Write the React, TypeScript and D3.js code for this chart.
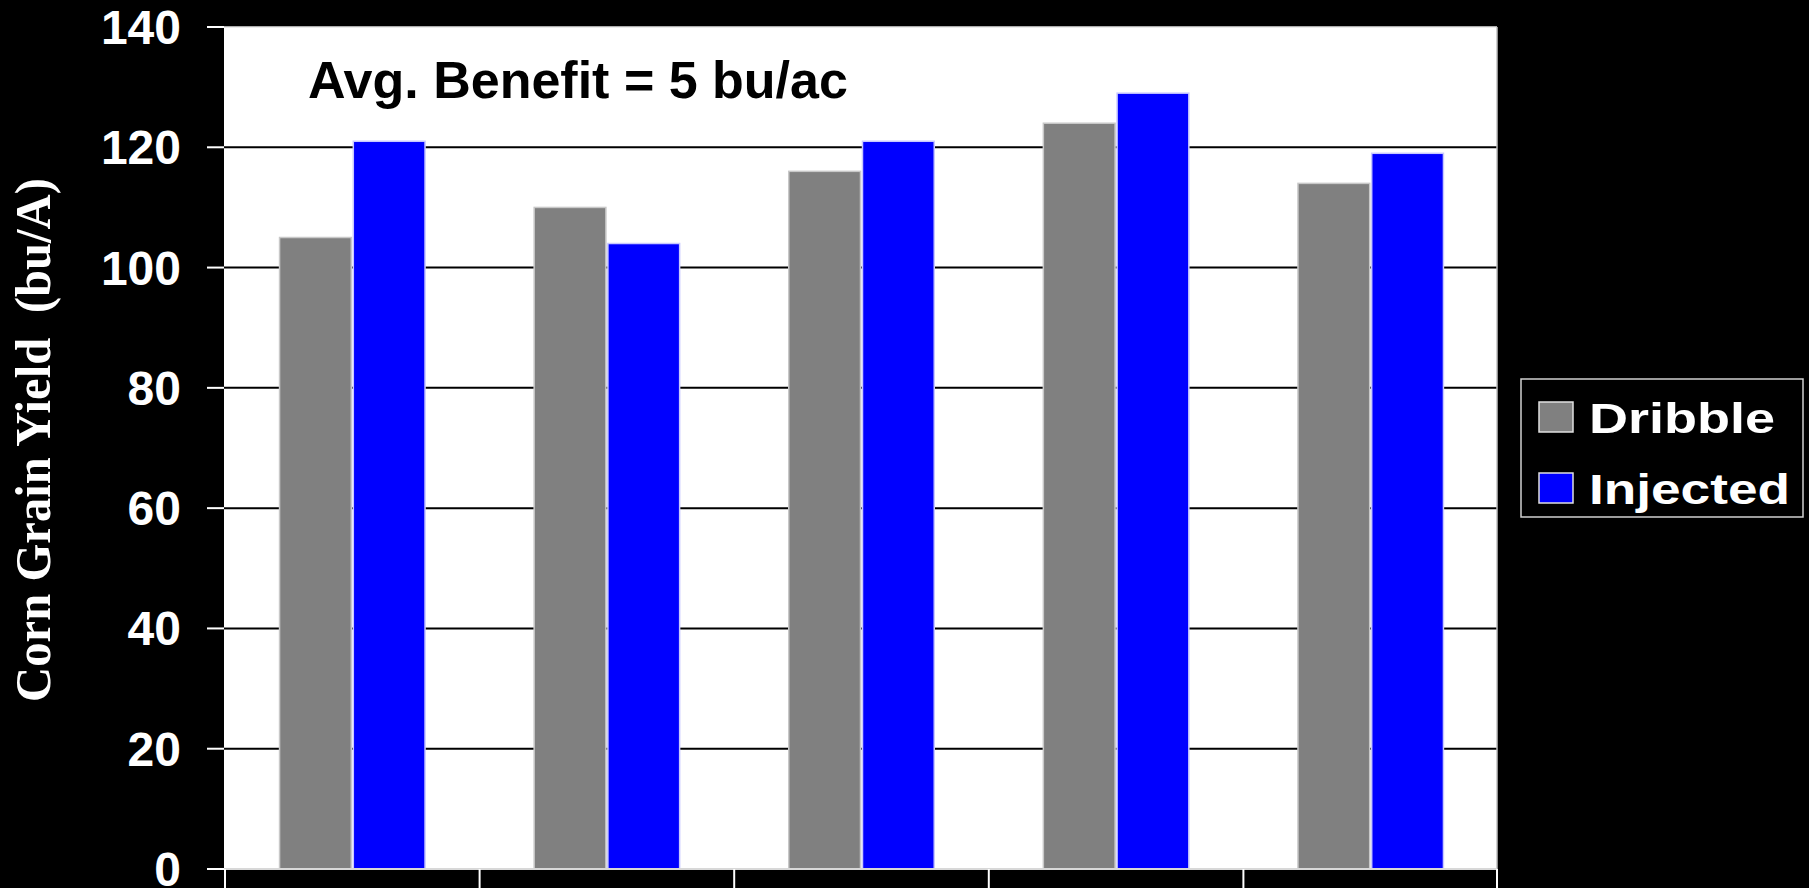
import React, { useEffect } from "react";
import * as d3 from "d3";

const categories = ["Site 1", "Site 2", "Site 3", "Site 4", "Site 5"];
const seriesNames = ["Dribble", "Injected"];
const dribble = [105, 110, 116, 124, 114];
const injected = [121, 104, 121, 129, 119];
const yTicks = [0, 20, 40, 60, 80, 100, 120, 140];
const seriesColors = ["#808080", "#0000FF"];
const annotation = "Avg. Benefit = 5 bu/ac";
const yTitle = "Corn Grain Yield\u00A0\u00A0(bu/A)";

const W = 1809;
const H = 888;
const plot = { left: 224, right: 1497, top: 27, bottom: 869 };

export default function App() {
  useEffect(() => {
    document.body.style.margin = "0";
    document.body.style.background = "#000";
  }, []);

  const x = d3
    .scaleBand<string>()
    .domain(categories)
    .range([plot.left, plot.right])
    .paddingInner(0)
    .paddingOuter(0);
  const y = d3.scaleLinear().domain([0, 140]).range([plot.bottom, plot.top]);
  const bw = x.bandwidth() / 3.5;
  const series = [dribble, injected];

  const boundaries = categories.map((c) => x(c) as number).concat([plot.right - 1]);

  return (
    <svg
      width={W}
      height={H}
      style={{ display: "block", background: "#000" }}
      fontFamily="'Liberation Sans', Arial, sans-serif"
    >
      <rect x={0} y={0} width={W} height={H} fill="#000" />
      {/* plot area */}
      <rect
        x={plot.left}
        y={plot.top}
        width={plot.right - plot.left}
        height={plot.bottom - plot.top}
        fill="#fff"
      />
      {/* gridlines */}
      {yTicks
        .filter((t) => t > 0 && t < 140)
        .map((t) => (
          <line
            key={"g" + t}
            x1={plot.left}
            x2={plot.right}
            y1={y(t)}
            y2={y(t)}
            stroke="#000"
            strokeWidth={2}
          />
        ))}
      {/* top & right borders */}
      <line x1={plot.left} x2={plot.right} y1={plot.top} y2={plot.top} stroke="#e6e6e6" strokeWidth={1.5} />
      <line x1={plot.right} x2={plot.right} y1={plot.top} y2={plot.bottom} stroke="#c0c0c0" strokeWidth={1.5} />
      {/* bars */}
      {series.map((vals, si) =>
        vals.map((v, i) => {
          const bx = (x(categories[i]) as number) + 0.75 * bw + si * bw;
          return (
            <rect
              key={`b${si}-${i}`}
              x={bx + 1 + si}
              y={y(v)}
              width={bw - 1}
              height={y(0) - y(v)}
              fill={seriesColors[si]}
              stroke={si === 0 ? "#c8c8c8" : "#c8c8ff"}
              strokeWidth={1.5}
            />
          );
        })
      )}
      {/* x axis */}
      <line x1={207} x2={plot.right} y1={plot.bottom} y2={plot.bottom} stroke="#d8d8d8" strokeWidth={2} />
      {boundaries.map((bx, i) => (
        <line key={"xt" + i} x1={bx + 1} x2={bx + 1} y1={plot.bottom} y2={H} stroke="#fff" strokeWidth={2} />
      ))}
      {/* y ticks & labels */}
      {yTicks.map((t) => (
        <g key={"yt" + t}>
          <line x1={207} x2={plot.left} y1={y(t)} y2={y(t)} stroke="#fff" strokeWidth={2} />
          <text
            x={181}
            y={y(t) + 17}
            textAnchor="end"
            fill="#fff"
            fontWeight="bold"
            fontSize={48}
          >
            {t}
          </text>
        </g>
      ))}
      {/* y title */}
      <text
        transform={`translate(50, 440) rotate(-90)`}
        textAnchor="middle"
        fill="#fff"
        fontWeight="bold"
        fontSize={50}
        fontFamily="'Liberation Serif', 'Times New Roman', serif"
        textLength={524}
        lengthAdjust="spacingAndGlyphs"
      >
        {yTitle}
      </text>
      {/* annotation */}
      <text x={308} y={98} fill="#000" fontWeight="bold" fontSize={52}>
        {annotation}
      </text>
      {/* legend */}
      <rect x={1521} y={379} width={282} height={138} fill="#000" stroke="#d0d0d0" strokeWidth={1.5} />
      {seriesNames.map((name, i) => (
        <g key={"l" + i}>
          <rect
            x={1539}
            y={402 + i * 71}
            width={34}
            height={30}
            fill={seriesColors[i]}
            stroke="#e0e0e0"
            strokeWidth={1.5}
          />
          <text
            x={1589}
            y={433 + i * 71}
            fill="#fff"
            fontWeight="bold"
            fontSize={43}
            textLength={i === 0 ? 186 : 201}
            lengthAdjust="spacingAndGlyphs"
          >
            {name}
          </text>
        </g>
      ))}
    </svg>
  );
}
